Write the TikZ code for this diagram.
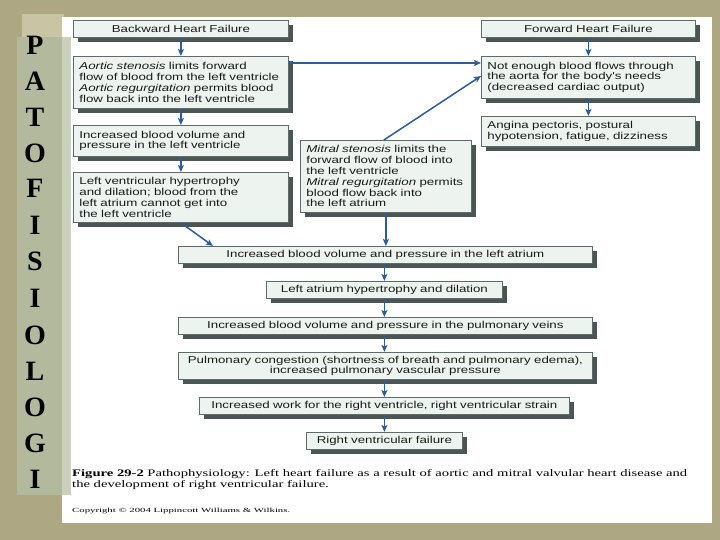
\documentclass[tikz,border=0pt]{standalone}
\usepackage{fontspec}
\usepackage{graphicx}
\setmainfont{Liberation Serif}
\newfontfamily\boxfont[FakeStretch=1.33]{Liberation Sans}
\usetikzlibrary{shadows,arrows.meta,calc}
\definecolor{bgtan}{HTML}{ADA783}
\definecolor{bglight}{HTML}{C9C4A4}
\definecolor{stripcol}{HTML}{B3B99D}
\definecolor{stripon}{HTML}{CBD0BC}
\definecolor{boxfill}{HTML}{EDF4F0}
\definecolor{boxline}{HTML}{5E6B6A}
\definecolor{shadowcol}{HTML}{4B5654}
\definecolor{arrowblue}{HTML}{2C5C9C}
\definecolor{boxtext}{HTML}{1A1A1A}
\begin{document}
\begin{tikzpicture}[x=1pt,y=-1pt,
  box/.style={draw=boxline, fill=boxfill, line width=0.8pt, anchor=north west,
    inner xsep=6pt, inner ysep=1pt, text=boxtext,
    font=\boxfont\fontsize{10}{10.8}\selectfont,
    drop shadow={shadow xshift=5pt, shadow yshift=-5pt, fill=shadowcol, opacity=1}},
  lbox/.style={box, align=left},
  cbox/.style={box, align=center},
  arr/.style={draw=arrowblue, line width=1.5pt, -{Stealth[length=7pt,width=6pt,inset=1.5pt]}},
  letter/.style={anchor=base, font=\bfseries\fontsize{28}{28}\selectfont, text=black, inner sep=0pt}
]
\useasboundingbox (0,0) rectangle (720,540);
\fill[bgtan] (0,0) rectangle (720,540);
\fill[bglight] (22,14) rectangle (64,40);
\fill[white] (62,17) rectangle (712,523);
\fill[stripcol] (17,37) rectangle (62,495);
\fill[stripon] (62,37) rectangle (71,495);

% letters
\node[letter] (l1) at (35,55) {P};
\node[letter] (l2) at (35,91) {A};
\node[letter] (l3) at (35,127) {T};
\node[letter] (l4) at (35,163) {O};
\node[letter] (l5) at (35,198) {F};
\node[letter] (l6) at (35,234) {I};
\node[letter] (l7) at (35,270) {S};
\node[letter] (l8) at (35,307) {I};
\node[letter] (l9) at (35,344) {O};
\node[letter] (l10) at (35,380) {L};
\node[letter] (l11) at (35,416) {O};
\node[letter] (l12) at (35,452) {G};
\node[letter] (l13) at (35,488) {I};

% boxes
\node[cbox, minimum width=215pt, minimum height=17pt, text width=203pt] (b1) at (73,20) {Backward Heart Failure};
\node[lbox, minimum width=215pt, minimum height=52pt, text width=203pt] (b2) at (73,56) {\textit{Aortic stenosis} limits forward\\flow of blood from the left ventricle\\\textit{Aortic regurgitation} permits blood\\flow back into the left ventricle};
\node[lbox, minimum width=215pt, minimum height=31pt, text width=203pt] (b3) at (73,125) {Increased blood volume and\\pressure in the left ventricle};
\node[lbox, minimum width=215pt, minimum height=50pt, text width=203pt] (b4) at (73,172) {Left ventricular hypertrophy\\and dilation; blood from the\\left atrium cannot get into\\the left ventricle};
\node[lbox, minimum width=171pt, minimum height=72pt, text width=159pt] (b5) at (300,140) {\textit{Mitral stenosis} limits the\\forward flow of blood into\\the left ventricle\\\textit{Mitral regurgitation} permits\\blood flow back into\\the left atrium};
\node[cbox, minimum width=214pt, minimum height=17pt, text width=202pt] (b6) at (481,20) {Forward Heart Failure};
\node[lbox, minimum width=214pt, minimum height=42pt, text width=202pt] (b7) at (481,56) {Not enough blood flows through\\the aorta for the body's needs\\(decreased cardiac output)};
\node[lbox, minimum width=214pt, minimum height=30pt, text width=202pt] (b8) at (481,116) {Angina pectoris, postural\\hypotension, fatigue, dizziness};
\node[cbox, minimum width=414pt, minimum height=17pt, text width=402pt] (b9) at (178,246) {Increased blood volume and pressure in the left atrium};
\node[cbox, minimum width=236pt, minimum height=17pt, text width=224pt] (b10) at (266,281) {Left atrium hypertrophy and dilation};
\node[cbox, minimum width=414pt, minimum height=17pt, text width=402pt] (b11) at (178,317) {Increased blood volume and pressure in the pulmonary veins};
\node[cbox, minimum width=414pt, minimum height=27pt, text width=402pt] (b12) at (178,352) {Pulmonary congestion (shortness of breath and pulmonary edema),\\increased pulmonary vascular pressure};
\node[cbox, minimum width=370pt, minimum height=17pt, text width=358pt] (b13) at (199,397) {Increased work for the right ventricle, right ventricular strain};
\node[cbox, minimum width=156pt, minimum height=17pt, text width=144pt] (b14) at (306,432) {Right ventricular failure};

% connectors
\draw[arr] (b1.south) -- (b2.north);
\draw[arr] (b2.south) -- (b3.north);
\draw[arr] (b3.south) -- (b4.north);
\draw[arr] (b4.south) -- ([xshift=35pt]b9.north west);
\draw[arr] ([yshift=-7pt]b2.north east) -- ([yshift=-7pt]b7.north west);
\draw[arr] ([xshift=-2pt]b5.north) -- ([yshift=-20pt]b7.north west);
\draw[arr] (b5.south) -- (b5.south |- b9.north);
\draw[arr] (b6.south) -- (b7.north);
\draw[arr] (b7.south) -- (b8.north);
\draw[arr] (b9.south -| b10.north) -- (b10.north);
\draw[arr] (b10.south) -- (b10.south |- b11.north);
\draw[arr] (b11.south -| b10.south) -- (b10.south |- b12.north);
\draw[arr] (b12.south -| b10.south) -- (b10.south |- b13.north);
\draw[arr] (b13.south -| b14.north) -- (b14.north);

% caption
\node[anchor=base west, inner sep=0pt, text=black] (cap) at (72,476) {\resizebox{615pt}{\height}{\fontsize{10}{11.5}\selectfont\begin{tabular}[t]{@{}l@{}}\textbf{Figure 29-2} Pathophysiology: Left heart failure as a result of aortic and mitral valvular heart disease and\\the development of right ventricular failure.\end{tabular}}};
\node[anchor=base west, inner sep=0pt, text=black] (copy) at (72,512) {\resizebox{218pt}{\height}{\fontsize{6.3}{7}\selectfont Copyright \textcopyright{} 2004 Lippincott Williams \& Wilkins.}};
\end{tikzpicture}
\end{document}
